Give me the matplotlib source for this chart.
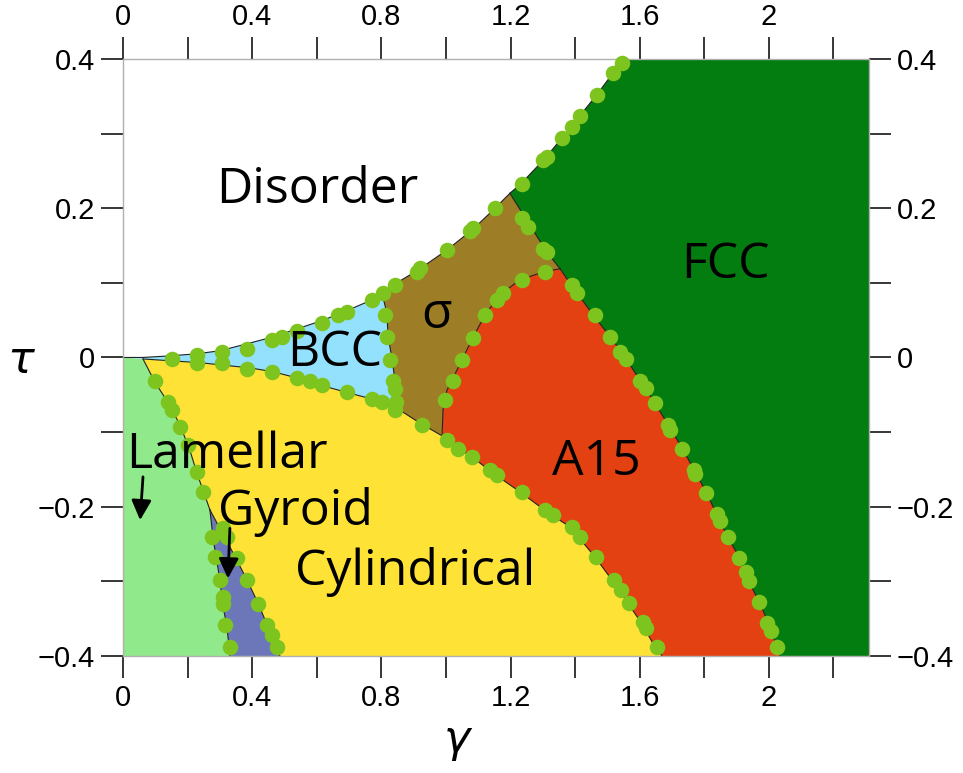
import numpy as np
import matplotlib.pyplot as plt

# phase boundaries, (gamma, tau) pairs
dis_bcc = [(0.0, 0.0), (0.06, 0.0), (0.14, 0.002), (0.23, 0.005), (0.30, 0.009), (0.39, 0.019),
           (0.46, 0.027), (0.53, 0.037), (0.62, 0.050), (0.70, 0.064), (0.77, 0.077), (0.803, 0.084)]
bcc_sig = [(0.803, 0.084), (0.817, 0.060), (0.821, 0.028), (0.832, 0.001), (0.842, -0.030), (0.848, -0.068)]
bcc_cyl = [(0.062, -0.002), (0.238, -0.007), (0.393, -0.014), (0.464, -0.019), (0.526, -0.026),
           (0.619, -0.038), (0.703, -0.048), (0.774, -0.056), (0.848, -0.068)]
sig_cyl = [(0.848, -0.068), (0.920, -0.088), (0.988, -0.105)]
sig_a15 = [(0.988, -0.105), (0.991, -0.070), (1.003, -0.044), (1.050, -0.003), (1.084, 0.027),
           (1.121, 0.057), (1.167, 0.084), (1.229, 0.104), (1.297, 0.114), (1.353, 0.119)]
sig_fcc = [(1.198, 0.220), (1.269, 0.171), (1.313, 0.141), (1.353, 0.119)]
dis_sig = [(0.803, 0.084), (0.836, 0.097), (0.913, 0.117), (1.003, 0.144), (1.084, 0.172),
           (1.152, 0.200), (1.198, 0.220)]
dis_fcc = [(1.198, 0.220), (1.235, 0.234), (1.307, 0.267), (1.359, 0.294), (1.415, 0.324),
           (1.467, 0.352), (1.517, 0.381), (1.537, 0.400)]
a15_fcc = [(1.353, 0.119), (1.393, 0.094), (1.461, 0.054), (1.508, 0.028), (1.554, 0.001),
           (1.610, -0.037), (1.647, -0.061), (1.693, -0.094), (1.731, -0.121), (1.771, -0.153),
           (1.808, -0.182), (1.842, -0.214), (1.873, -0.241), (1.910, -0.269), (1.935, -0.298),
           (1.972, -0.329), (2.003, -0.361), (2.034, -0.400)]
cyl_a15 = [(0.988, -0.105), (1.034, -0.121), (1.080, -0.133), (1.146, -0.155), (1.229, -0.180),
           (1.313, -0.207), (1.384, -0.227), (1.461, -0.267), (1.529, -0.307), (1.563, -0.329),
           (1.610, -0.359), (1.647, -0.388), (1.669, -0.400)]
lam_cyl = [(0.062, -0.002), (0.099, -0.033), (0.139, -0.060), (0.176, -0.090), (0.207, -0.124),
           (0.229, -0.155), (0.248, -0.178), (0.269, -0.204)]
lam_gyr = [(0.269, -0.204), (0.280, -0.245), (0.300, -0.298), (0.310, -0.334), (0.322, -0.361), (0.331, -0.400)]
gyr_cyl = [(0.269, -0.204), (0.341, -0.262), (0.384, -0.298), (0.418, -0.329), (0.449, -0.361), (0.486, -0.400)]

# computed transition points (green dots)
pts_dis_bcc = [(0.151, -0.002), (0.228, 0.003), (0.306, 0.008), (0.383, 0.012), (0.460, 0.023),
               (0.491, 0.028), (0.538, 0.035), (0.615, 0.046), (0.667, 0.057), (0.693, 0.061),
               (0.770, 0.077), (0.806, 0.086)]
pts_bcc_cyl = [(0.228, -0.008), (0.306, -0.008), (0.383, -0.015), (0.460, -0.019), (0.538, -0.028),
               (0.579, -0.032), (0.615, -0.037), (0.693, -0.046), (0.770, -0.055), (0.801, -0.059)]
pts_bcc_sig = [(0.811, 0.057), (0.816, 0.028), (0.827, -0.003), (0.837, -0.032), (0.842, -0.042),
               (0.846, -0.059), (0.842, -0.070)]
pts_dis_sig = [(0.842, 0.097), (0.909, 0.115), (0.920, 0.120), (1.002, 0.144), (1.074, 0.169),
               (1.085, 0.173), (1.152, 0.200)]
pts_sig_cyl = [(0.925, -0.090), (1.002, -0.111)]
pts_sig_a15 = [(0.997, -0.057), (1.023, -0.032), (1.049, -0.003), (1.085, 0.026), (1.121, 0.057),
               (1.157, 0.077), (1.178, 0.086), (1.234, 0.104), (1.307, 0.115)]
pts_sig_fcc = [(1.234, 0.187), (1.255, 0.175), (1.301, 0.146), (1.312, 0.142)]
pts_dis_fcc = [(1.234, 0.233), (1.301, 0.265), (1.312, 0.269), (1.358, 0.294), (1.389, 0.309),
               (1.415, 0.324), (1.467, 0.352), (1.518, 0.381), (1.544, 0.394)]
pts_a15_fcc = [(1.389, 0.097), (1.407, 0.086), (1.461, 0.057), (1.508, 0.027), (1.539, 0.008),
               (1.557, -0.002), (1.601, -0.031), (1.619, -0.041), (1.647, -0.061), (1.688, -0.090),
               (1.695, -0.097), (1.730, -0.122), (1.768, -0.151), (1.771, -0.156), (1.805, -0.181),
               (1.838, -0.210), (1.848, -0.219), (1.874, -0.240), (1.908, -0.269), (1.928, -0.287),
               (1.938, -0.299), (1.969, -0.328), (1.995, -0.356), (2.005, -0.366), (2.024, -0.388)]
pts_cyl_a15 = [(1.038, -0.122), (1.080, -0.133), (1.136, -0.151), (1.157, -0.157), (1.234, -0.180),
               (1.307, -0.204), (1.333, -0.211), (1.389, -0.227), (1.415, -0.240), (1.464, -0.268),
               (1.520, -0.298), (1.541, -0.312), (1.568, -0.329), (1.611, -0.355), (1.619, -0.363),
               (1.652, -0.388)]
pts_lam_cyl = [(0.099, -0.032), (0.140, -0.059), (0.151, -0.070), (0.176, -0.093), (0.202, -0.117),
               (0.228, -0.153), (0.249, -0.180)]
pts_lam_gyr = [(0.275, -0.240), (0.285, -0.267), (0.300, -0.298), (0.311, -0.321), (0.311, -0.330),
               (0.316, -0.359), (0.331, -0.388)]
pts_gyr_cyl = [(0.311, -0.229), (0.321, -0.240), (0.352, -0.269), (0.383, -0.298), (0.419, -0.330),
               (0.445, -0.359), (0.460, -0.372), (0.476, -0.388)]

x_max = 2.31
x_ticks = [0, 0.2, 0.4, 0.6, 0.8, 1.0, 1.2, 1.4, 1.6, 1.8, 2.0, 2.2]
x_labels = ['0', '', '0.4', '', '0.8', '', '1.2', '', '1.6', '', '2', '']
y_ticks = [-0.4, -0.3, -0.2, -0.1, 0, 0.1, 0.2, 0.3, 0.4]
y_labels = ['\u22120.4', '', '\u22120.2', '', '0', '', '0.2', '', '0.4']

phase_labels = ['Disorder', 'BCC', '\u03c3', 'FCC', 'A15', 'Lamellar', 'Gyroid', 'Cylindrical']
label_pos = [(0.601, 0.224), (0.656, 0.005), (0.972, 0.057), (1.864, 0.124), (1.467, -0.140),
             (0.322, -0.131), (0.533, -0.207), (0.904, -0.287)]


def rev(a):
    return a[::-1]


polys = {
    'lam': ([(0.0, 0.0)] + lam_cyl + lam_gyr + [(0.0, -0.4)], '#90e98a'),
    'gyr': (gyr_cyl + [(0.331, -0.4)] + rev(lam_gyr), '#6b77b9'),
    'cyl': (bcc_cyl + sig_cyl + cyl_a15 + rev(gyr_cyl) + rev(lam_cyl), '#fee236'),
    'bcc': (dis_bcc + bcc_sig + rev(bcc_cyl) + [(0.0, 0.0)], '#93e1fc'),
    'sig': (dis_sig + sig_fcc + rev(sig_a15) + rev(sig_cyl) + rev(bcc_sig), '#9d7e27'),
    'a15': (a15_fcc + rev(cyl_a15) + sig_a15, '#e34112'),
    'fcc': (dis_fcc + [(x_max, 0.4), (x_max, -0.4)] + rev(a15_fcc) + rev(sig_fcc), '#037c10'),
}

fig = plt.figure(figsize=(9.63, 7.73), dpi=100)
ax = fig.add_axes([0.1277, 0.1514, 0.7747, 0.7723])

for verts, col in polys.values():
    v = np.array(verts)
    ax.fill(v[:, 0], v[:, 1], color=col, lw=0, zorder=1)

for b in [dis_bcc, bcc_sig, bcc_cyl, sig_cyl, sig_a15, sig_fcc, dis_sig, dis_fcc,
          a15_fcc, cyl_a15, lam_cyl, lam_gyr, gyr_cyl]:
    b = np.array(b)
    ax.plot(b[:, 0], b[:, 1], color='#222222', lw=0.8, zorder=2)

all_pts = np.array(pts_dis_bcc + pts_bcc_cyl + pts_bcc_sig + pts_dis_sig + pts_sig_cyl + pts_sig_a15
                   + pts_sig_fcc + pts_dis_fcc + pts_a15_fcc + pts_cyl_a15 + pts_lam_cyl
                   + pts_lam_gyr + pts_gyr_cyl)
ax.scatter(all_pts[:, 0], all_pts[:, 1], s=125, color='#7ec41e', lw=0, zorder=3, clip_on=False)

for txt, (x, y) in zip(phase_labels, label_pos):
    ax.text(x, y, txt, ha='center', va='center', fontsize=36, family='Open Sans', zorder=4)

arrow = dict(arrowstyle='-|>', color='black', lw=2.0, mutation_scale=30, shrinkA=0, shrinkB=0)
ax.annotate('', xy=(0.053, -0.218), xytext=(0.062, -0.160), arrowprops=arrow, zorder=4)
ax.annotate('', xy=(0.325, -0.296), xytext=(0.331, -0.229), arrowprops=arrow, zorder=4)

ax.set_xlim(0, x_max)
ax.set_ylim(-0.4, 0.4)
ax.set_xticks(x_ticks)
ax.set_xticklabels(x_labels)
ax.set_yticks(y_ticks)
ax.set_yticklabels(y_labels)
ax.tick_params(which='both', direction='out', length=16, width=1.1, pad=4,
               top=True, right=True, labeltop=True, labelright=True, labelsize=21)
for lab in ax.get_xticklabels() + ax.get_yticklabels():
    lab.set_family('Liberation Sans')
for sp in ax.spines.values():
    sp.set_color('#b0b0b0')
    sp.set_linewidth(1.0)

fig.text(0.0218, 0.533, '\u03c4', fontsize=32, style='italic', ha='center', va='center')
fig.text(0.4746, 0.043, '\u03b3', fontsize=32, style='italic', ha='center', va='center')

fig.savefig('out.png', dpi=100)
